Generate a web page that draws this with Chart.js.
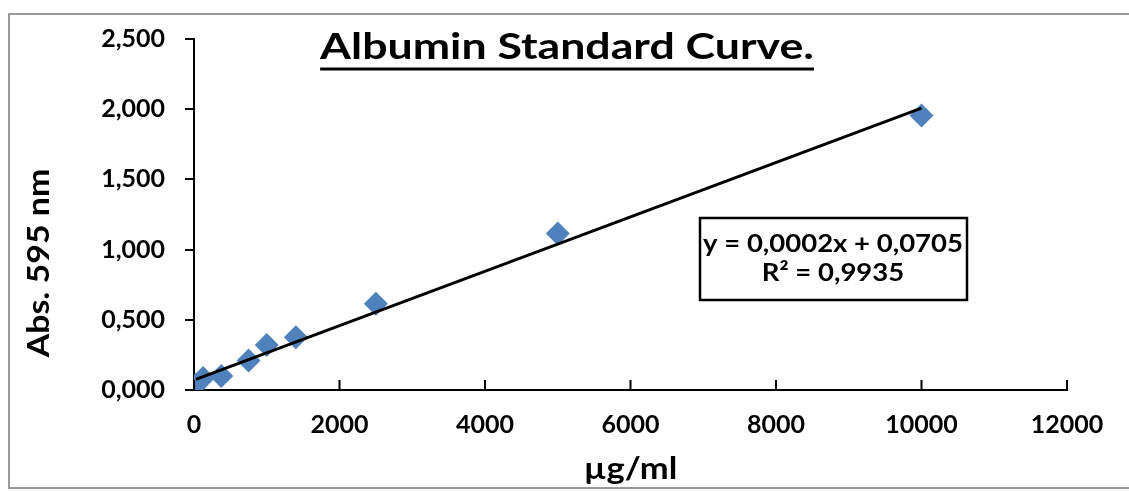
<!DOCTYPE html>
<html lang="en">

<head>
    <title>Albumin Standard Curve</title>
    <script src="https://cdn.jsdelivr.net/npm/chart.js"></script>
    <style>
        body { margin: 0; background: #fff; }
    </style>
</head>

<body>
    <canvas id="chart" width="1129" height="491"></canvas>

    <script>
        // Data
        const concentration = [25, 125, 375, 750, 1000, 1400, 2500, 5000, 10000];   // µg/ml
        const absorbance = [0.035, 0.085, 0.100, 0.210, 0.320, 0.375, 0.615, 1.115, 1.955];
        // Excel linear trendline, drawn over the data range
        const trendX = [25, 10000];
        const trendY = [0.0755, 2.008];
        const xTicks = [0, 2000, 4000, 6000, 8000, 10000, 12000];
        const yTicks = [0, 0.5, 1.0, 1.5, 2.0, 2.5];

        const FONT = 'Lato, "Open Sans", sans-serif';

        // text stretched sideways a bit, the scanned original is wider than Lato
        function wideText(c, text, x, y, sx, rot) {
            c.save();
            c.translate(x, y);
            if (rot) c.rotate(rot);
            c.scale(sx, 1);
            c.fillText(text, 0, 0);
            const w = c.measureText(text).width;
            c.restore();
            return w * sx;
        }

        // Frame, titles, equation box and the inward x tick marks
        const decor = {
            id: 'decor',
            beforeDraw(chart) {
                const c = chart.ctx;
                c.save();
                c.strokeStyle = '#9a9a9a';
                c.lineWidth = 2;
                c.beginPath();
                c.moveTo(1129, 14); c.lineTo(9, 14); c.lineTo(9, 488); c.lineTo(1129, 488);
                c.stroke();
                c.restore();
            },
            afterDraw(chart) {
                const c = chart.ctx;
                const x = chart.scales.x, y = chart.scales.y;
                c.save();
                // x ticks point up into the plot
                c.strokeStyle = '#000';
                c.lineWidth = 2;
                x.ticks.forEach(t => {
                    const px = x.getPixelForValue(t.value);
                    c.beginPath();
                    c.moveTo(px, y.bottom);
                    c.lineTo(px, y.bottom - 10);
                    c.stroke();
                });

                c.fillStyle = '#000';
                c.textAlign = 'center';

                // title, underlined
                c.font = 'bold 36px ' + FONT;
                c.textBaseline = 'alphabetic';
                const tw = wideText(c, 'Albumin Standard Curve.', 567, 59, 1.24);
                c.lineWidth = 3;
                c.beginPath();
                c.moveTo(567 - tw / 2, 69);
                c.lineTo(567 + tw / 2, 69);
                c.stroke();

                // axis titles
                c.textBaseline = 'middle';
                c.font = 'bold 30px ' + FONT;
                wideText(c, 'Abs. 595 nm', 39, 263, 1.13, -Math.PI / 2);
                wideText(c, 'µg/ml', (x.left + x.right) / 2, 469, 1.15);

                // equation box
                c.lineWidth = 2.5;
                c.fillStyle = '#fff';
                c.fillRect(700, 218, 267, 82);
                c.strokeRect(700, 218, 267, 82);
                c.fillStyle = '#000';
                c.font = 'bold 25px ' + FONT;
                wideText(c, 'y = 0,0002x + 0,0705', 833, 244, 1.1);
                wideText(c, 'R² = 0,9935', 833, 273, 1.1);
                c.restore();
            }
        };

        const ctx = document.getElementById('chart').getContext('2d');

        const chart = new Chart(ctx, {
            type: 'scatter',
            data: {
                datasets: [{
                    label: 'Albumin',
                    data: concentration.map((v, i) => ({ x: v, y: absorbance[i] })),
                    pointStyle: 'rectRot',
                    pointRadius: 12,
                    backgroundColor: '#4F81BD',
                    borderColor: '#4F81BD',
                    borderWidth: 0,
                    order: 2
                }, {
                    label: 'Linear',
                    type: 'line',
                    data: trendX.map((v, i) => ({ x: v, y: trendY[i] })),
                    borderColor: '#000',
                    borderWidth: 3,
                    pointRadius: 0,
                    fill: false,
                    order: 1
                }]
            },
            options: {
                responsive: false,
                animation: false,
                layout: { padding: { left: 0, right: 62, top: 39, bottom: 0 } },
                plugins: {
                    legend: { display: false },
                    tooltip: { enabled: false }
                },
                scales: {
                    x: {
                        type: 'linear',
                        min: 0,
                        max: 12000,
                        afterBuildTicks: s => { s.ticks = xTicks.map(v => ({ value: v })); },
                        afterFit: s => { s.height = 101; },
                        grid: { display: false, drawTicks: false },
                        border: { display: true, color: '#000', width: 2 },
                        ticks: {
                            color: '#000',
                            padding: 20,
                            maxRotation: 0,
                            font: { family: FONT, size: 25, weight: 'bold' },
                            callback: v => String(v)
                        }
                    },
                    y: {
                        min: 0,
                        max: 2.5,
                        afterBuildTicks: s => { s.ticks = yTicks.map(v => ({ value: v })); },
                        afterFit: s => { s.width = 194; },
                        grid: {
                            display: true,
                            drawOnChartArea: false,
                            drawTicks: true,
                            tickLength: 9,
                            color: '#000',
                            lineWidth: 2
                        },
                        border: { display: true, color: '#000', width: 2 },
                        ticks: {
                            color: '#000',
                            padding: 20,
                            font: { family: FONT, size: 25, weight: 'bold' },
                            callback: v => v.toFixed(3).replace('.', ',')
                        }
                    }
                }
            },
            plugins: [decor]
        });
    </script>
</body>

</html>
